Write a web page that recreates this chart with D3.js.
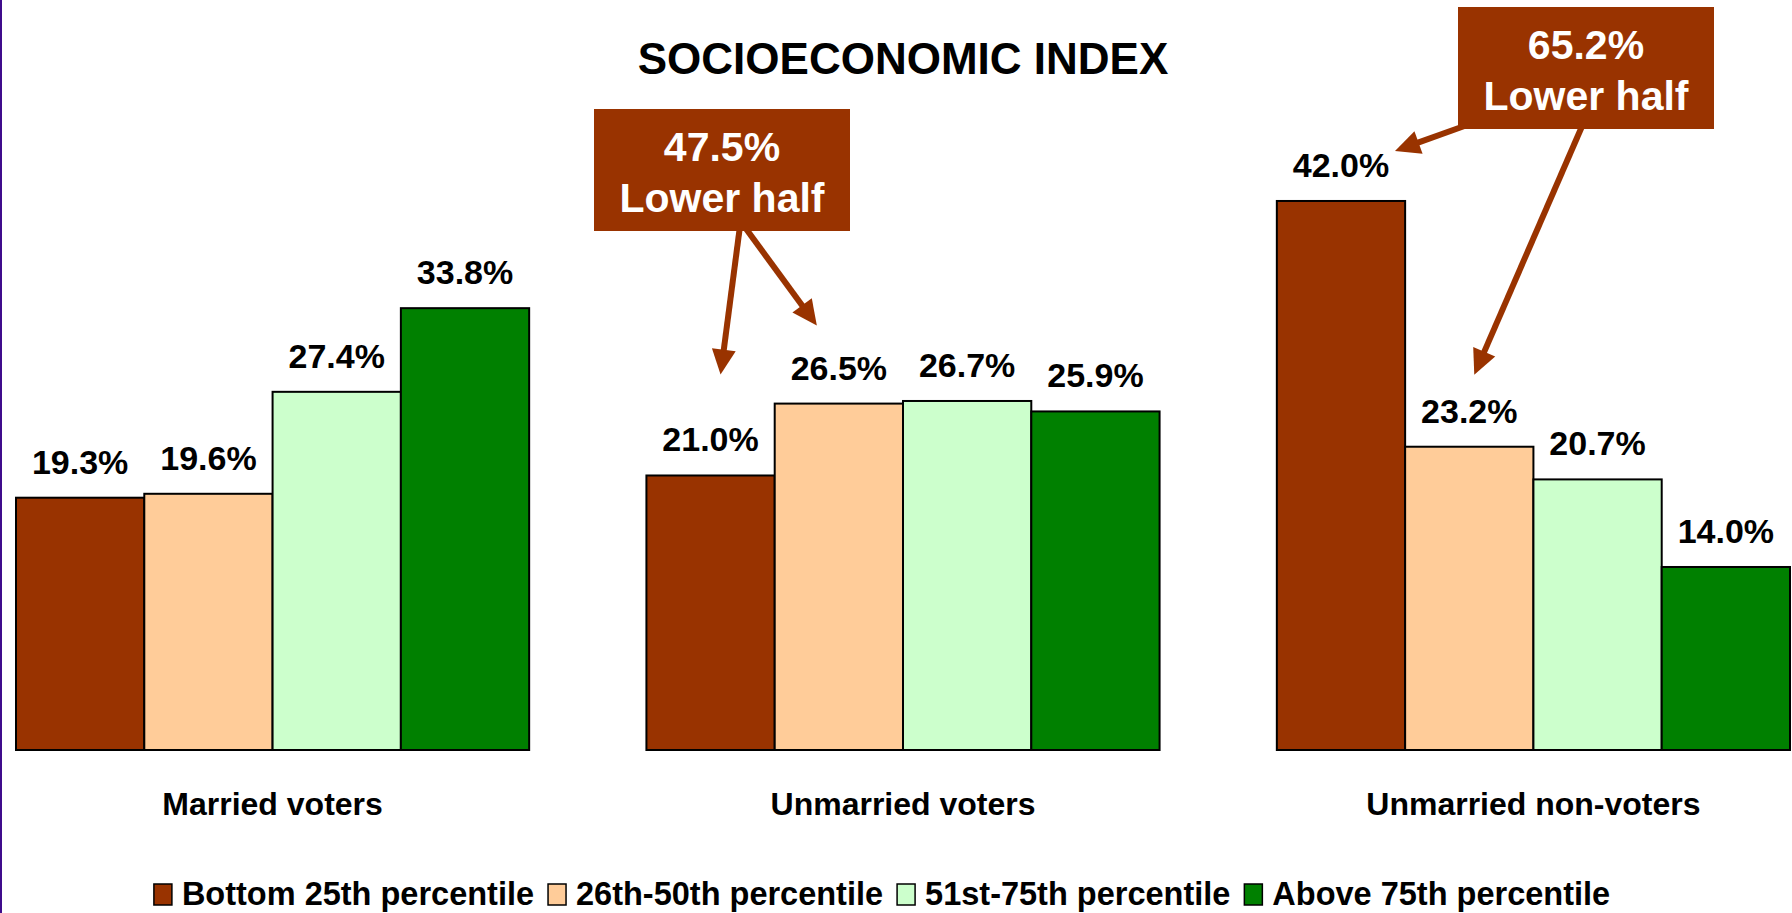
<!DOCTYPE html>
<meta charset="utf-8">

<!-- load the d3.js library -->
<script src="https://d3js.org/d3.v7.min.js"></script>

<style>
  body { margin: 0; background: #fff; }
  text { font-family: "Liberation Sans", Arial, sans-serif; font-weight: bold; }
</style>

<body>
<div id="chart"></div>

<script>

    // Data
    var groups = ["Married voters", "Unmarried voters", "Unmarried non-voters"];
    var series = ["Bottom 25th percentile", "26th-50th percentile", "51st-75th percentile", "Above 75th percentile"];
    var colors = ["#993300", "#ffcc99", "#ccffcc", "#008000"];
    var marriedVoters = [19.3, 19.6, 27.4, 33.8];
    var unmarriedVoters = [21.0, 26.5, 26.7, 25.9];
    var unmarriedNonVoters = [42.0, 23.2, 20.7, 14.0];
    var lowerHalfTotals = ["47.5%", "65.2%"];   // callouts for the two unmarried groups

    var values = [marriedVoters, unmarriedVoters, unmarriedNonVoters];

    // flatten into rows for the bars
    var rows = [];
    groups.forEach(function(g, gi) {
        series.forEach(function(s, si) {
            rows.push({group: g, series: s, value: values[gi][si], color: colors[si]});
        });
    });

    var width = 1792, height = 913;

    var svg = d3.select("#chart")
        .append("svg")
        .attr("width", width)
        .attr("height", height);

    // purple rule on the left edge
    svg.append("rect")
        .attr("x", 0).attr("y", 0)
        .attr("width", 2).attr("height", height)
        .style("fill", "#3f0c8c");

    // scales
    var x0 = d3.scaleBand()
        .domain(groups)
        .range([16, 1790])
        .paddingInner(0.186)
        .paddingOuter(0);

    var x1 = d3.scaleBand()
        .domain(series)
        .range([0, x0.bandwidth()])
        .padding(0);

    var y = d3.scaleLinear()
        .domain([0, 50])
        .range([750, 96.4]);

    // title
    svg.append("text")
        .attr("x", 903)
        .attr("y", 74)
        .attr("text-anchor", "middle")
        .style("font-size", "44px")
        .text("SOCIOECONOMIC INDEX");

    // bars
    svg.selectAll(".bar")
        .data(rows)
        .enter()
        .append("rect")
        .attr("class", "bar")
        .attr("x", function(d) { return x0(d.group) + x1(d.series); })
        .attr("width", x1.bandwidth())
        .attr("y", function(d) { return y(d.value); })
        .attr("height", function(d) { return y(0) - y(d.value); })
        .style("fill", function(d) { return d.color; })
        .style("stroke", "#000")
        .style("stroke-width", 2);

    // value labels
    svg.selectAll(".value")
        .data(rows)
        .enter()
        .append("text")
        .attr("class", "value")
        .attr("x", function(d) { return x0(d.group) + x1(d.series) + x1.bandwidth() / 2; })
        .attr("y", function(d) { return y(d.value) - 24; })
        .attr("text-anchor", "middle")
        .style("font-size", "34px")
        .text(function(d) { return d.value.toFixed(1) + "%"; });

    // category labels under each group
    svg.append("g")
        .attr("transform", "translate(0," + y(0) + ")")
        .call(d3.axisBottom(x0).tickSize(0).tickPadding(42))
        .call(function(g) { g.select(".domain").remove(); })
        .selectAll("text")
        .attr("font-family", null)
        .style("font-size", "32px")
        .style("fill", "#000");

    // callouts with arrows
    function barX(g, s) { return x0(g) + x1(s) + x1.bandwidth() / 2; }

    var callouts = [
        {label: lowerHalfTotals[0], box: [594, 109], group: groups[1],
         arrows: [
            {from: [740, 226], series: series[0], dx: 10, dy: 101},
            {from: [744, 226], series: series[1], dx: -22, dy: 78}
         ]},
        {label: lowerHalfTotals[1], box: [1458, 7], group: groups[2],
         arrows: [
            {from: [1470, 124], series: series[0], dx: 54, dy: 50},
            {from: [1583, 124], series: series[1], dx: 5, dy: 72}
         ]}
    ];

    var brown = "#993300";
    var headLen = 25, headHalf = 12;

    callouts.forEach(function(c) {
        c.arrows.forEach(function(a) {
            var tx = barX(c.group, a.series) + a.dx;
            var d0 = rows.filter(function(r) { return r.group === c.group && r.series === a.series; })[0];
            var ty = y(d0.value) - a.dy;
            var vx = tx - a.from[0], vy = ty - a.from[1];
            var len = Math.sqrt(vx * vx + vy * vy);
            var ux = vx / len, uy = vy / len;
            var bx = tx - ux * headLen, by = ty - uy * headLen;
            svg.append("line")
                .attr("x1", a.from[0]).attr("y1", a.from[1])
                .attr("x2", bx + ux * 2).attr("y2", by + uy * 2)
                .style("stroke", brown)
                .style("stroke-width", 6);
            svg.append("path")
                .attr("d", "M" + tx + "," + ty +
                    "L" + (bx - uy * headHalf) + "," + (by + ux * headHalf) +
                    "L" + (bx + uy * headHalf) + "," + (by - ux * headHalf) + "Z")
                .style("fill", brown);
        });

        var bw = 256, bh = 122;
        svg.append("rect")
            .attr("x", c.box[0]).attr("y", c.box[1])
            .attr("width", bw).attr("height", bh)
            .style("fill", brown);
        svg.append("text")
            .attr("x", c.box[0] + bw / 2)
            .attr("y", c.box[1] + 52)
            .attr("text-anchor", "middle")
            .style("font-size", "41px")
            .style("fill", "#fff")
            .text(c.label);
        svg.append("text")
            .attr("x", c.box[0] + bw / 2)
            .attr("y", c.box[1] + 103)
            .attr("text-anchor", "middle")
            .style("font-size", "41px")
            .style("fill", "#fff")
            .text("Lower half");
    });

    // legend, laid out left to right and centred
    var legend = svg.append("g");
    var lx = 0;
    series.forEach(function(s, i) {
        legend.append("rect")
            .attr("x", lx).attr("y", -21)
            .attr("width", 18).attr("height", 21)
            .style("fill", colors[i])
            .style("stroke", "#000")
            .style("stroke-width", 1.5);
        var t = legend.append("text")
            .attr("x", lx + 28)
            .attr("y", 0)
            .style("font-size", "32.5px")
            .text(s);
        lx += 28 + t.node().getComputedTextLength() + 14;
    });
    lx -= 14;
    legend.attr("transform", "translate(" + (882 - lx / 2) + ",905)");

</script>
</body>
